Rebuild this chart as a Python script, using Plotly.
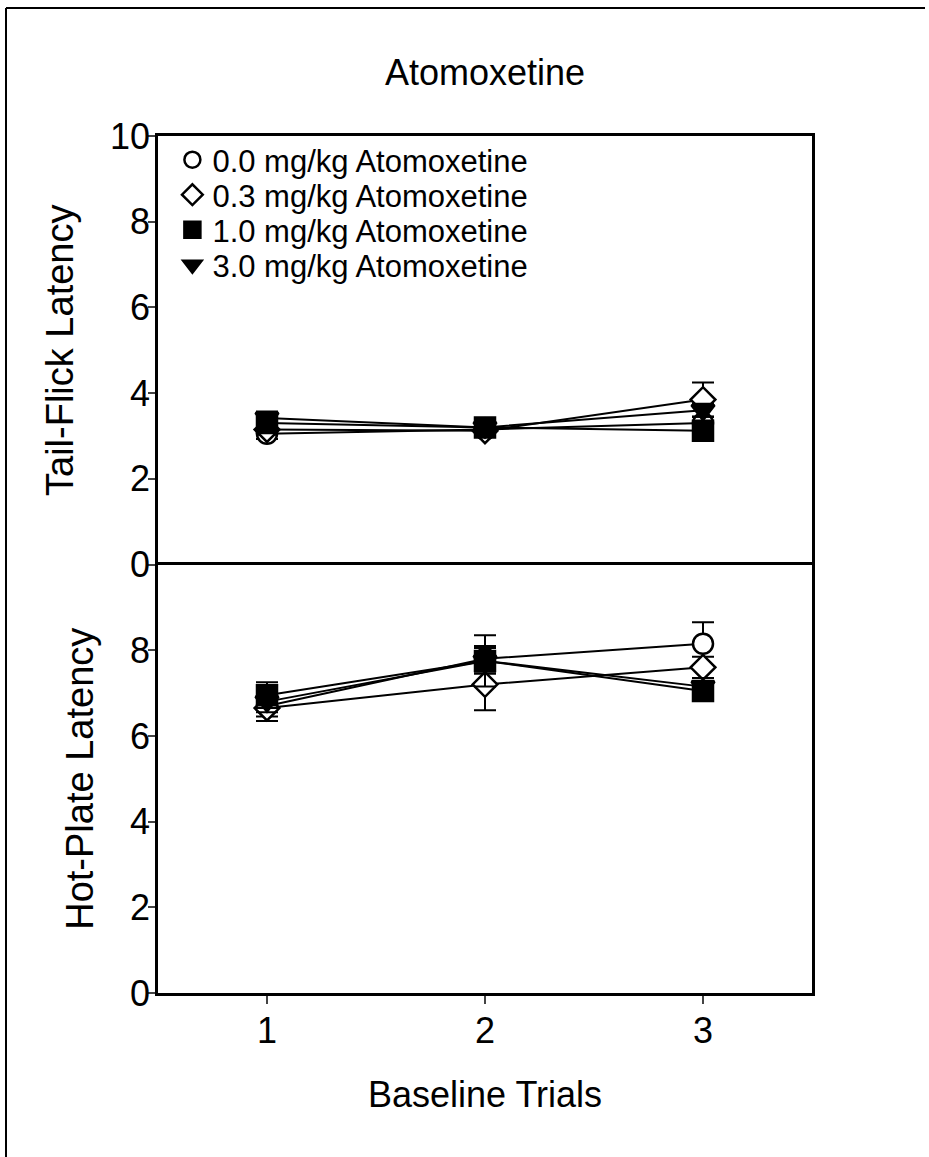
import plotly.graph_objects as go
from plotly.subplots import make_subplots

trials = [1, 2, 3]
series_names = ["0.0 mg/kg Atomoxetine", "0.3 mg/kg Atomoxetine",
                "1.0 mg/kg Atomoxetine", "3.0 mg/kg Atomoxetine"]

# Tail-flick latency (top panel)
tf_00 = [3.05, 3.15, 3.30]
tf_03 = [3.15, 3.12, 3.85]
tf_10 = [3.30, 3.20, 3.12]
tf_30 = [3.42, 3.20, 3.60]
tf_00_err = [0.12, 0.10, 0.15]
tf_03_err = [0.12, 0.10, 0.40]
tf_10_err = [0.15, 0.12, 0.12]
tf_30_err = [0.15, 0.12, 0.15]

# Hot-plate latency (bottom panel)
hp_00 = [6.70, 7.80, 8.15]
hp_03 = [6.65, 7.20, 7.60]
hp_10 = [6.95, 7.75, 7.05]
hp_30 = [6.80, 7.75, 7.15]
hp_00_err = [0.25, 0.30, 0.50]
hp_03_err = [0.30, 0.60, 0.25]
hp_10_err = [0.30, 0.60, 0.20]
hp_30_err = [0.25, 0.30, 0.20]

symbols = ["circle", "diamond", "square", "triangle-down"]
fills = ["white", "white", "black", "black"]
sizes = [20, 19, 20, 20]

FONT = "Liberation Sans, Arial, sans-serif"
TICK = 36
TITLE = 36

# plot area in pixels: x 158..812, y 136..993
L, R, T, B = 158, 812, 136, 993
W, H = 929, 1157
pw, ph = R - L, B - T

def px2paper_x(px):
    return (px - L) / pw

def px2paper_y(py):
    return (B - py) / ph

legend_ids = ["legend", "legend2", "legend3", "legend4"]
legend_rows_px = [160, 195, 230, 265]

fig = make_subplots(rows=2, cols=1, shared_xaxes=True, vertical_spacing=0)

top = [(tf_00, tf_00_err), (tf_03, tf_03_err), (tf_10, tf_10_err), (tf_30, tf_30_err)]
bot = [(hp_00, hp_00_err), (hp_03, hp_03_err), (hp_10, hp_10_err), (hp_30, hp_30_err)]

for row, data in ((1, top), (2, bot)):
    for vals, err in data:
        fig.add_trace(go.Scatter(x=trials, y=vals, mode="lines",
                                 line=dict(color="black", width=2),
                                 showlegend=False, hoverinfo="skip"), row=row, col=1)
    for i, (vals, err) in enumerate(data):
        fig.add_trace(go.Scatter(
            x=trials, y=vals, mode="markers", name=series_names[i],
            showlegend=(row == 1), legend=legend_ids[i],
            marker=dict(symbol=symbols[i], size=sizes[i], color=fills[i],
                        line=dict(color="black", width=2.5)),
            error_y=dict(type="data", array=err, visible=True,
                         color="black", thickness=2, width=11),
        ), row=row, col=1)

axis_common = dict(showline=True, linecolor="black", linewidth=2.5,
                   showgrid=False, zeroline=False,
                   tickfont=dict(family=FONT, size=TICK, color="black"))

fig.update_xaxes(**axis_common, range=[0.5, 3.5])
fig.update_xaxes(tickvals=trials, ticks="outside", ticklen=8, tickwidth=2, mirror=True,
                 ticklabelstandoff=-4,
                 title=dict(text="Baseline Trials", font=dict(family=FONT, size=TITLE, color="black"),
                            standoff=32),
                 row=2, col=1)
fig.update_xaxes(ticks="", showticklabels=False, side="top", mirror=False, row=1, col=1)

fig.update_yaxes(**axis_common, mirror=True, range=[0, 10], ticks="outside", ticklen=7,
                 tickwidth=2, ticklabelstandoff=-9)
fig.update_yaxes(tickvals=[0, 2, 4, 6, 8, 10],
                 title=dict(text="Tail-Flick Latency", font=dict(family=FONT, size=38, color="black"),
                            standoff=25),
                 row=1, col=1)
fig.update_yaxes(tickvals=[0, 2, 4, 6, 8],
                 title=dict(text="Hot-Plate Latency", font=dict(family=FONT, size=38, color="black"),
                            standoff=25),
                 row=2, col=1)

# outer frame (top and left edges visible)
fig.add_shape(type="line", xref="paper", yref="paper",
              x0=px2paper_x(6), x1=px2paper_x(925),
              y0=px2paper_y(8), y1=px2paper_y(8),
              line=dict(color="black", width=2), layer="above")
fig.add_shape(type="line", xref="paper", yref="paper",
              x0=px2paper_x(6), x1=px2paper_x(6),
              y0=px2paper_y(8), y1=px2paper_y(1157),
              line=dict(color="black", width=2), layer="above")

fig.add_annotation(text="Atomoxetine", xref="paper", yref="paper",
                   x=0.5, y=px2paper_y(72), xanchor="center", yanchor="middle",
                   showarrow=False, font=dict(family=FONT, size=TITLE, color="black"))

legend_style = dict(bgcolor="rgba(0,0,0,0)", font=dict(family=FONT, size=31, color="black"),
                    itemwidth=30, xanchor="left", yanchor="middle")
layout_legends = {}
for lid, ypx in zip(legend_ids, legend_rows_px):
    layout_legends[lid] = dict(legend_style, x=0.022, y=px2paper_y(ypx))

fig.update_layout(
    width=W, height=H,
    margin=dict(l=L, r=W - R, t=T, b=H - B, pad=0),
    paper_bgcolor="white", plot_bgcolor="white",
    font=dict(family=FONT, color="black"),
    showlegend=True,
    **layout_legends,
)

fig.write_html("out.html")
